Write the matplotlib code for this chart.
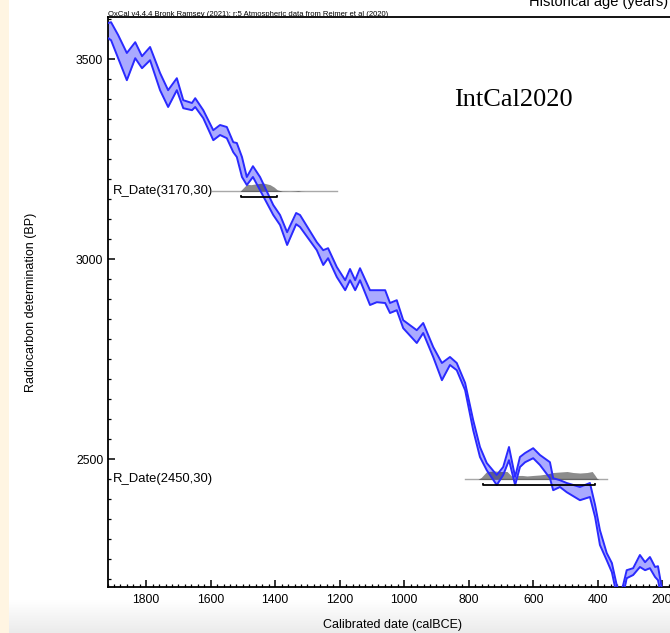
import numpy as np
import matplotlib
matplotlib.use("Agg")
import matplotlib.pyplot as plt
from matplotlib.colors import LinearSegmentedColormap
from matplotlib.patches import Rectangle
from matplotlib.ticker import MultipleLocator

# calibration band: calBCE, upper / lower edge in BP
cal_year = [1920, 1918, 1909, 1887, 1860, 1834, 1813, 1788, 1757, 1732, 1705, 1685,
            1658, 1648, 1623, 1592, 1571, 1550, 1530, 1519, 1503, 1488, 1469, 1447,
            1406, 1385, 1363, 1335, 1323, 1271, 1251, 1236, 1209, 1183, 1168, 1152,
            1137, 1106, 1085, 1059, 1044, 1023, 1003, 961, 941, 910, 883, 858, 837,
            811, 786, 765, 744, 713, 693, 675, 656, 641, 625, 600, 579, 548, 538,
            517, 496, 455, 424, 408, 393, 372, 356, 341, 331, 321, 310, 290, 269,
            253, 238, 222, 213, 200, 182]
bp_upper = [3591, 3591, 3593, 3561, 3516, 3543, 3508, 3531, 3466, 3423, 3453, 3398,
            3391, 3403, 3373, 3323, 3336, 3331, 3293, 3291, 3256, 3206, 3233, 3206,
            3136, 3111, 3068, 3116, 3111, 3043, 3023, 3028, 2981, 2948, 2976, 2948,
            2978, 2923, 2923, 2923, 2891, 2898, 2848, 2823, 2841, 2781, 2741, 2756,
            2741, 2691, 2598, 2531, 2491, 2461, 2481, 2531, 2456, 2506, 2516, 2528,
            2511, 2493, 2453, 2448, 2441, 2431, 2441, 2386, 2323, 2266, 2241, 2186,
            2161, 2186, 2223, 2228, 2261, 2243, 2256, 2231, 2233, 2173, 2148]
bp_lower = [3553, 3553, 3548, 3503, 3448, 3503, 3478, 3498, 3423, 3381, 3423, 3378,
            3373, 3381, 3353, 3298, 3311, 3303, 3268, 3256, 3206, 3186, 3206, 3173,
            3111, 3086, 3036, 3088, 3081, 3023, 2986, 3003, 2956, 2923, 2948, 2923,
            2948, 2886, 2893, 2891, 2866, 2873, 2828, 2791, 2816, 2756, 2698, 2736,
            2723, 2673, 2573, 2506, 2473, 2436, 2461, 2498, 2436, 2481, 2493, 2503,
            2486, 2453, 2423, 2431, 2418, 2398, 2406, 2356, 2286, 2248, 2218, 2161,
            2136, 2161, 2203, 2211, 2231, 2223, 2228, 2206, 2198, 2148, 2123]

# the two radiocarbon dates
date_labels = ["R_Date(3170,30)", "R_Date(2450,30)"]
date_bp = [3170, 2450]
line_from = [1595, 811]
line_to = [1208, 371]
range_from = [1506, 755]
range_to = [1395, 408]

# calibrated probability (relative)
d1_year = [1509, 1502, 1488, 1475, 1459, 1437, 1416, 1403, 1394, 1378, 1354, 1338,
           1329, 1320, 1307]
d1_prob = [0, 0.3, 0.85, 0.8, 0.9, 1.0, 0.8, 0.5, 0.2, 0.03, 0.01, 0.04, 0.08, 0.02, 0]
d2_year = [771, 761, 744, 718, 703, 681, 669, 659, 647, 634, 619, 600, 579, 557,
           538, 517, 495, 476, 455, 433, 417, 408, 402, 396]
d2_prob = [0, 0.24, 0.94, 1.0, 0.94, 0.94, 0.47, 0.12, 0.47, 0.47, 0.41, 0.47, 0.53,
           0.65, 0.82, 0.88, 0.94, 0.82, 0.76, 0.82, 0.94, 0.47, 0.12, 0]
dists = [(d1_year, d1_prob), (d2_year, d2_prob)]

plt.rcParams["font.family"] = ["Liberation Sans", "DejaVu Sans"]

fig = plt.figure(figsize=(6.7, 6.33), dpi=100)

# screenshot surroundings: cream strip on the left, grey fade at the bottom
gax = fig.add_axes([0, 0, 1, 33 / 633], zorder=-5)
fade = LinearSegmentedColormap.from_list("fade", ["#ffffff", "#ebebeb"])
gax.imshow(np.linspace(0, 1, 60).reshape(-1, 1), cmap=fade, aspect="auto")
gax.axis("off")
fig.add_artist(Rectangle((0, 0), 9 / 670, 1, transform=fig.transFigure,
                         color="#fff5e2", zorder=-4, lw=0))

ax = fig.add_axes([107.5 / 670, 46 / 633, 570.8 / 670, 570 / 633])

for (yrs, prob), bp in zip(dists, date_bp):
    ax.fill_between(yrs, bp, bp + np.array(prob) * 21, color="black", alpha=0.45,
                    lw=0, zorder=3)

ax.fill_between(cal_year, bp_lower, bp_upper, color="#aaaaff", lw=0, zorder=2)
ax.plot(cal_year, bp_upper, color="#2a2aff", lw=1.4, zorder=4)
ax.plot(cal_year, bp_lower, color="#2a2aff", lw=1.4, zorder=4)

for i in range(len(date_bp)):
    bp = date_bp[i]
    ax.plot([line_from[i], line_to[i]], [bp, bp], color="#a8a8a8", lw=1, zorder=1)
    yb = bp - 14
    ax.plot([range_from[i], range_from[i], range_to[i], range_to[i]],
            [yb + 3, yb, yb, yb + 3], color="black", lw=1.3, zorder=5)
    ax.text(1903, bp, date_labels[i], fontsize=9.4, va="center", ha="left")

ax.text(513 / 670, 1 - 100 / 633, "IntCal2020", transform=fig.transFigure,
        fontsize=19, family="Liberation Serif", ha="center", va="center")

ax.set_xlim(1920, 150)
ax.set_ylim(2181, 3606)
ax.xaxis.set_major_locator(MultipleLocator(200))
ax.xaxis.set_minor_locator(MultipleLocator(20))
ax.yaxis.set_major_locator(MultipleLocator(500))
ax.yaxis.set_minor_locator(MultipleLocator(50))
ax.tick_params(which="both", direction="in", top=False, right=False)
ax.tick_params(which="major", length=5, width=1.1)
ax.tick_params(which="minor", length=2.5, width=0.9)
ax.tick_params(axis="x", labelsize=8.8, pad=5)
ax.tick_params(axis="y", labelsize=8.8, pad=3)
for s in ax.spines.values():
    s.set_linewidth(1.3)

fig.text(31.5 / 670, 1 - 302 / 633, "Radiocarbon determination (BP)", rotation=90,
         ha="center", va="center", fontsize=9)
fig.text(392 / 670, 1 - 625 / 633, "Calibrated date (calBCE)", ha="center",
         va="center", fontsize=9)
fig.text(108 / 670, 1 - 15.5 / 633,
         "OxCal v4.4.4 Bronk Ramsey (2021); r:5 Atmospheric data from Reimer et al (2020)",
         fontsize=5.5, ha="left", va="baseline")
# page title sits partly above the top edge of the screenshot
fig.text(668 / 670, 1 - 6 / 633, "Historical age (years)", fontsize=10.5,
         ha="right", va="baseline")

fig.savefig("out.png", dpi=100)
